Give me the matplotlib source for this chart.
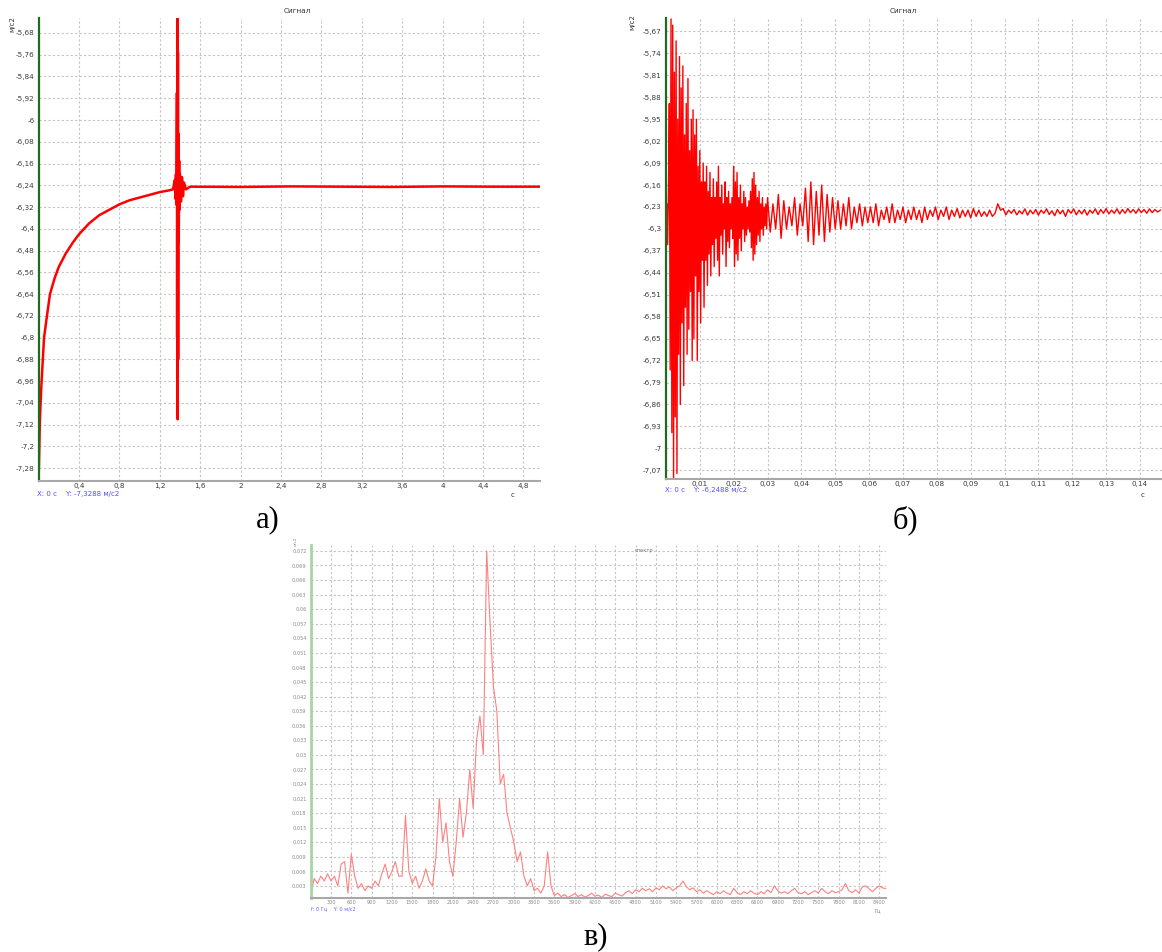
import matplotlib
matplotlib.use('Agg')
import matplotlib.pyplot as plt
import numpy as np

plt.rcParams['font.family'] = ['DejaVu Sans']

# ---- panel a: signal 0..5 s ----
t_a = [0, 0.005, 0.012, 0.02, 0.03, 0.054, 0.083, 0.113, 0.16, 0.2, 0.27, 0.34, 0.4, 0.5, 0.6,
       0.7, 0.8, 0.9, 1.0, 1.1, 1.2, 1.3, 1.33, 1.35, 1.355, 1.36, 1.365, 1.37, 1.372, 1.375,
       1.377, 1.38, 1.382, 1.385, 1.388, 1.392, 1.396, 1.40, 1.41, 1.42, 1.43, 1.44, 1.46, 1.5,
       2.0, 2.5, 3.0, 3.5, 4.0, 4.5, 4.97]
sig_a = [-7.33, -7.25, -7.12, -7.04, -6.96, -6.80, -6.72, -6.64, -6.58, -6.54, -6.49, -6.45, -6.42, -6.38, -6.35,
         -6.33, -6.31, -6.295, -6.285, -6.275, -6.265, -6.258, -6.255, -6.22, -6.29, -6.2, -6.31, -5.9, -6.8, -5.62,
         -7.1, -5.75, -6.88, -6.05, -6.45, -6.15, -6.33, -6.2, -6.3, -6.21, -6.28, -6.23, -6.255, -6.245,
         -6.246, -6.244, -6.245, -6.246, -6.244, -6.245, -6.245]
yt_a = [-5.68, -5.76, -5.84, -5.92, -6.0, -6.08, -6.16, -6.24, -6.32, -6.4, -6.48, -6.56, -6.64, -6.72,
        -6.8, -6.88, -6.96, -7.04, -7.12, -7.2, -7.28]
yl_a = ['-5,68', '-5,76', '-5,84', '-5,92', '-6', '-6,08', '-6,16', '-6,24', '-6,32', '-6,4', '-6,48',
        '-6,56', '-6,64', '-6,72', '-6,8', '-6,88', '-6,96', '-7,04', '-7,12', '-7,2', '-7,28']
xt_a = [0.4, 0.8, 1.2, 1.6, 2.0, 2.4, 2.8, 3.2, 3.6, 4.0, 4.4, 4.8]
xl_a = ['0,4', '0,8', '1,2', '1,6', '2', '2,4', '2,8', '3,2', '3,6', '4', '4,4', '4,8']

# ---- panel b: first 0.146 s ----
sig_b1 = [  # step 0.00025 s, from 0
    -6.27, -6.22, -6.35, -6.18,
    -5.9, -6.75, -5.63, -6.95, -5.65, -7.1, -5.8, -6.9, -5.7, -7.08, -5.95, -6.7,
    -5.75, -6.86, -5.85, -6.6, -5.78, -6.8, -6.0, -6.55, -5.9, -6.7, -5.82, -6.62, -6.05, -6.5, -5.95, -6.72,
    -5.92, -6.65, -6.0, -6.45, -5.95, -6.72, -6.1, -6.5, -6.05, -6.6, -6.15, -6.4,
    -6.09, -6.55, -6.15, -6.4, -6.1, -6.48, -6.18, -6.38, -6.12, -6.45, -6.2, -6.35, -6.14, -6.42, -6.2, -6.33,
    -6.15, -6.4, -6.1, -6.45, -6.2, -6.32, -6.16, -6.38, -6.22, -6.3, -6.15, -6.42, -6.2, -6.34, -6.18, -6.36,
    -6.22, -6.3, -6.2, -6.33,
    -6.1, -6.42, -6.15, -6.38, -6.12, -6.4, -6.2, -6.33, -6.16, -6.37, -6.22, -6.3, -6.18, -6.34, -6.2, -6.32,
    -6.23, -6.3, -6.21, -6.31,
    -6.18, -6.36, -6.14, -6.4, -6.12, -6.38, -6.16, -6.35, -6.2, -6.32, -6.18, -6.34, -6.22, -6.3, -6.2, -6.32,
    -6.23, -6.29, -6.22, -6.3]
sig_b2 = [  # step 0.0008 s, from 0.03
    -6.2, -6.31, -6.22, -6.3, -6.19, -6.33, -6.21, -6.3, -6.23, -6.29, -6.2, -6.32, -6.22,
    -6.29, -6.17, -6.34, -6.15, -6.35, -6.18, -6.32, -6.16, -6.34, -6.19, -6.31, -6.2, -6.3,
    -6.21, -6.3, -6.22, -6.29, -6.2, -6.3, -6.23, -6.28, -6.22, -6.29, -6.23, -6.28,
    -6.23, -6.28, -6.22, -6.29, -6.24, -6.27, -6.23, -6.28, -6.22, -6.28, -6.24, -6.27, -6.23, -6.28, -6.24,
    -6.27, -6.23, -6.27, -6.24, -6.28, -6.23, -6.27, -6.24, -6.26, -6.23,
    -6.27, -6.24, -6.26, -6.23, -6.27, -6.24, -6.26, -6.235, -6.265, -6.24, -6.26, -6.24, -6.265, -6.235,
    -6.26, -6.24, -6.26, -6.245, -6.26, -6.24, -6.26, -6.25, -6.22, -6.24, -6.235,
    -6.255, -6.24, -6.25, -6.238, -6.255, -6.242, -6.252, -6.236, -6.256, -6.24,
    -6.252, -6.238, -6.256, -6.24, -6.25, -6.236, -6.254, -6.242, -6.258, -6.238,
    -6.252, -6.24, -6.26, -6.238, -6.25, -6.236, -6.255, -6.24, -6.252, -6.238,
    -6.256, -6.24, -6.25, -6.236, -6.254, -6.238, -6.25, -6.235, -6.252, -6.24,
    -6.25, -6.236, -6.252, -6.238, -6.25, -6.235, -6.248, -6.238, -6.25, -6.236,
    -6.248, -6.238, -6.25, -6.236, -6.248, -6.238, -6.246, -6.24]
yt_b = [-5.67, -5.74, -5.81, -5.88, -5.95, -6.02, -6.09, -6.16, -6.23, -6.3, -6.37, -6.44, -6.51,
        -6.58, -6.65, -6.72, -6.79, -6.86, -6.93, -7.0, -7.07]
yl_b = ['-5,67', '-5,74', '-5,81', '-5,88', '-5,95', '-6,02', '-6,09', '-6,16', '-6,23', '-6,3', '-6,37',
        '-6,44', '-6,51', '-6,58', '-6,65', '-6,72', '-6,79', '-6,86', '-6,93', '-7', '-7,07']
xt_b = [0.01, 0.02, 0.03, 0.04, 0.05, 0.06, 0.07, 0.08, 0.09, 0.1, 0.11, 0.12, 0.13, 0.14]
xl_b = ['0,01', '0,02', '0,03', '0,04', '0,05', '0,06', '0,07', '0,08', '0,09', '0,1', '0,11',
        '0,12', '0,13', '0,14']

# ---- panel c: spectrum, step 50 Hz, values in 1e-3 m/s2 ----
spec_c = [1.0, 4.5, 3.5, 5.0, 4.0, 5.5, 4.0, 5.0, 3.0, 7.5,
          8.0, 1.5, 9.5, 5.0, 2.5, 3.5, 2.0, 3.0, 2.5, 4.0,
          3.0, 5.5, 7.5, 4.5, 6.0, 8.0, 5.0, 5.0, 17.5, 6.0,
          3.5, 5.0, 2.5, 4.0, 6.5, 4.0, 3.0, 9.0, 21.0, 12.0,
          16.0, 8.0, 5.0, 12.0, 21.0, 13.0, 18.0, 27.0, 19.0, 33.0,
          38.0, 30.0, 72.0, 57.0, 44.0, 39.0, 24.0, 26.0, 18.0, 15.0,
          12.0, 8.0, 10.0, 5.0, 3.0, 4.5, 2.0, 2.5, 1.5, 3.0,
          10.0, 3.0, 1.0, 1.5, 0.8, 1.2, 0.6, 1.0, 1.4, 0.8,
          1.2, 0.7, 1.0, 1.5, 0.9, 1.1, 0.6, 1.3, 1.0, 0.8,
          1.5, 1.2, 0.9, 1.6, 2.0, 1.4, 2.2, 1.8, 2.5, 2.0,
          2.4, 1.8, 2.6, 2.2, 3.0, 2.4, 2.8, 2.0, 2.6, 3.0,
          4.0, 2.8, 2.2, 2.6, 1.8, 2.2, 1.5, 2.0, 1.6, 1.2,
          1.8, 1.4, 2.0, 1.5, 1.2, 2.5, 1.6, 1.2, 1.8, 1.4,
          2.0, 1.5, 1.2, 1.8, 1.4, 2.2, 1.6, 3.0, 2.0, 1.5,
          1.8, 1.4, 2.0, 2.5, 1.6, 1.4, 1.8, 1.2, 1.6, 2.0,
          1.5, 2.5, 1.8, 1.4, 2.0, 1.6, 1.8, 2.2, 3.5, 2.0,
          1.6, 2.2, 1.5, 2.8, 3.0, 2.4, 1.8, 2.5, 3.0, 2.6, 2.4]
yt_c = [0.003, 0.006, 0.009, 0.012, 0.015, 0.018, 0.021, 0.024, 0.027, 0.03, 0.033, 0.036,
        0.039, 0.042, 0.045, 0.048, 0.051, 0.054, 0.057, 0.06, 0.063, 0.066, 0.069, 0.072]
yl_c = ['0,003', '0,006', '0,009', '0,012', '0,015', '0,018', '0,021', '0,024', '0,027', '0,03',
        '0,033', '0,036', '0,039', '0,042', '0,045', '0,048', '0,051', '0,054', '0,057', '0,06',
        '0,063', '0,066', '0,069', '0,072']
xt_c = [300, 600, 900, 1200, 1500, 1800, 2100, 2400, 2700, 3000, 3300, 3600, 3900, 4200, 4500,
        4800, 5100, 5400, 5700, 6000, 6300, 6600, 6900, 7200, 7500, 7800, 8100, 8400]


def style_axes(ax, green, fs, tcol):
    for s in ['top', 'right']:
        ax.spines[s].set_visible(False)
    ax.spines['left'].set_color(green)
    ax.spines['left'].set_linewidth(1.6)
    ax.spines['bottom'].set_color('#a8a8a8')
    ax.spines['bottom'].set_linewidth(1.5)
    ax.grid(True, color='#c4c4c4', linestyle=(0, (2, 2)), linewidth=0.8)
    ax.set_axisbelow(True)
    ax.tick_params(axis='y', length=0, labelsize=fs, labelcolor=tcol, pad=3)
    ax.tick_params(axis='x', length=0, labelsize=fs, labelcolor=tcol, pad=1.5)


fig = plt.figure(figsize=(11.62, 9.52), dpi=100)

# panel a
ax = fig.add_axes([0.0332, 0.4947, 0.4315, 0.4864])
ax.plot(t_a, sig_a, color='#ff0000', linewidth=1.8)
ax.set_xlim(0, 4.965)
ax.set_ylim(-7.327, -5.625)
ax.set_yticks(yt_a, yl_a)
ax.set_xticks(xt_a, xl_a)
style_axes(ax, '#1f6b1f', 5.2, '#3a3a3a')
ax.text(0.515, 1.008, 'Сигнал', transform=ax.transAxes, fontsize=5.2, color='#333333', ha='center', va='bottom')
fig.text(0.011, 0.975, 'м/с2', rotation=90, fontsize=5, color='#333333', ha='center', va='center')
fig.text(0.441, 0.480, 'c', fontsize=5, color='#333333', ha='center', va='center')
fig.text(0.032, 0.481, 'X: 0 c    Y: -7,3288 м/c2', fontsize=5, color='#5050ff', ha='left', va='center')

# panel b
t_b1 = np.arange(len(sig_b1)) * 0.00025
t_b2 = 0.03 + np.arange(len(sig_b2)) * 0.0008
ax = fig.add_axes([0.5731, 0.4968, 0.4269, 0.4843])
ax.plot(np.concatenate([t_b1, t_b2]), sig_b1 + sig_b2, color='#ff0000', linewidth=1.0)
ax.set_xlim(0, 0.1465)
ax.set_ylim(-7.098, -5.627)
ax.set_yticks(yt_b, yl_b)
ax.set_xticks(xt_b, xl_b)
style_axes(ax, '#1f6b1f', 5.2, '#3a3a3a')
ax.text(0.478, 1.008, 'Сигнал', transform=ax.transAxes, fontsize=5.2, color='#333333', ha='center', va='bottom')
fig.text(0.544, 0.977, 'м/с2', rotation=90, fontsize=5, color='#333333', ha='center', va='center')
fig.text(0.9836, 0.480, 'c', fontsize=5, color='#333333', ha='center', va='center')
fig.text(0.572, 0.485, 'X: 0 c    Y: -6,2488 м/c2', fontsize=5, color='#5050ff', ha='left', va='center')

# panel c
f_c = np.arange(len(spec_c)) * 50
ax = fig.add_axes([0.2674, 0.0567, 0.4951, 0.3708])
ax.plot(f_c, np.array(spec_c) / 1000, color='#ff8080', linewidth=0.8)
ax.set_xlim(0, 8500)
ax.set_ylim(0.0005, 0.0732)
ax.set_yticks(yt_c, yl_c)
ax.set_xticks(xt_c, [str(v) for v in xt_c])
style_axes(ax, '#a8d4a8', 3.6, '#8a8a8a')
ax.spines['left'].set_linewidth(2.0)
ax.text(0.58, 0.985, 'спектр', transform=ax.transAxes, fontsize=3.6, color='#777777', ha='center', va='center')
fig.text(0.2545, 0.4315, 'м/с2', rotation=90, fontsize=3, color='#888888', ha='center', va='center')
fig.text(0.755, 0.043, 'Гц', fontsize=3.6, color='#777777', ha='center', va='center')
fig.text(0.268, 0.045, 'f: 0 Гц    Y: 0 м/с2', fontsize=3.6, color='#6060ff', ha='left', va='center')

# panel letters
fig.text(0.2306, 0.4538, 'а)', fontsize=22, family='Liberation Serif', ha='center', va='center')
fig.text(0.7788, 0.4538, 'б)', fontsize=22, family='Liberation Serif', ha='center', va='center')
fig.text(0.5129, 0.0158, 'в)', fontsize=22, family='Liberation Serif', ha='center', va='center')

plt.savefig('out.png', dpi=100)
plt.close()
